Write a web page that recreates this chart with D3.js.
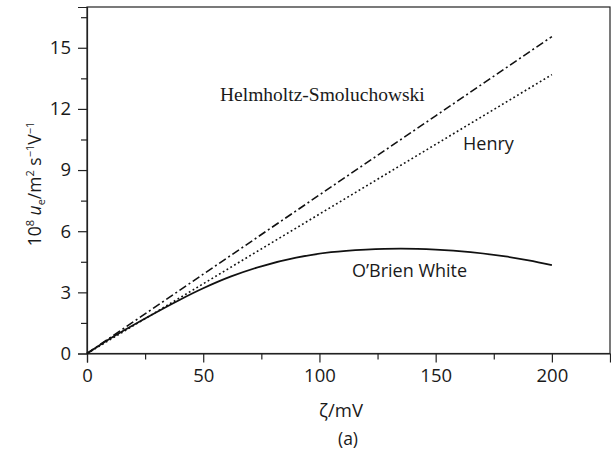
<!DOCTYPE html>
<html>
<head>
<meta charset="utf-8">
<script src="https://cdn.jsdelivr.net/npm/d3@7"></script>
<style>
  html, body { margin: 0; padding: 0; background: #fff; }
  svg { display: block; }
  text { fill: #1a1a1a; }
</style>
</head>
<body>
<svg id="chart" width="611" height="453"></svg>
<script>
// Electrophoretic mobility vs zeta potential for three models
const zetaHS = [0, 50, 100, 150, 200];
const mobilityHS = [0, 3.89, 7.78, 11.66, 15.55];

const zetaHenry = [0, 50, 100, 150, 200];
const mobilityHenry = [0, 3.42, 6.84, 10.26, 13.68];

const zetaOW = [0, 10, 25, 40, 50, 62, 75, 90, 105, 120, 135, 150, 165, 180, 190, 200];
const mobilityOW = [0, 0.74, 1.72, 2.64, 3.2, 3.78, 4.28, 4.7, 4.97, 5.1, 5.15, 5.1, 4.97, 4.76, 4.57, 4.33];

const xTicks = [0, 50, 100, 150, 200];
const xMinorTicks = [25, 75, 125, 175];
const yTicks = [0, 3, 6, 9, 12, 15];
const yMinorTicks = [1.5, 4.5, 7.5, 10.5, 13.5, 16.5];

const svg = d3.select("#chart");
const plotLeft = 87, plotRight = 610, plotTop = 7, plotBottom = 353.5;

const x = d3.scaleLinear().domain([0, 225]).range([plotLeft, plotRight]);
const y = d3.scaleLinear().domain([0, 17]).range([plotBottom, plotTop]);

const tickFont = "'Open Sans', 'Noto Sans', sans-serif";

// frame
svg.append("rect")
  .attr("x", plotLeft).attr("y", plotTop)
  .attr("width", plotRight - plotLeft).attr("height", plotBottom - plotTop)
  .attr("fill", "none").attr("stroke", "#222").attr("stroke-width", 1.2);

// x axis
svg.append("g").attr("transform", `translate(0,${plotBottom})`)
  .call(d3.axisBottom(x).tickValues(xTicks).tickSize(9).tickPadding(6).tickFormat(d3.format("d")));
svg.append("g").attr("transform", `translate(0,${plotBottom})`)
  .call(d3.axisBottom(x).tickValues(xMinorTicks).tickSize(6).tickFormat(""))
  .call(g => g.select(".domain").remove());

// y axis
svg.append("g").attr("transform", `translate(${plotLeft},0)`)
  .call(d3.axisLeft(y).tickValues(yTicks).tickSize(9).tickPadding(7).tickFormat(d3.format("d")));
svg.append("g").attr("transform", `translate(${plotLeft},0)`)
  .call(d3.axisLeft(y).tickValues(yMinorTicks).tickSize(6).tickFormat(""))
  .call(g => g.select(".domain").remove());

svg.selectAll(".tick line").attr("stroke", "#222").attr("stroke-width", 1.2);
svg.selectAll(".domain").attr("stroke", "#222").attr("stroke-width", 1.2);
svg.selectAll(".tick text")
  .attr("font-family", tickFont).attr("font-size", 18.5).attr("fill", "#1a1a1a");

// curves
const line = d3.line().x(d => x(d[0])).y(d => y(d[1]));

svg.append("path")
  .datum(d3.zip(zetaHS, mobilityHS))
  .attr("d", line).attr("fill", "none")
  .attr("stroke", "#111").attr("stroke-width", 1.6)
  .attr("stroke-dasharray", "8,3,2,3");

svg.append("path")
  .datum(d3.zip(zetaHenry, mobilityHenry))
  .attr("d", line).attr("fill", "none")
  .attr("stroke", "#111").attr("stroke-width", 1.6)
  .attr("stroke-dasharray", "1.8,2.6");

svg.append("path")
  .datum(d3.zip(zetaOW, mobilityOW))
  .attr("d", line.curve(d3.curveCatmullRom.alpha(0.5))).attr("fill", "none")
  .attr("stroke", "#111").attr("stroke-width", 1.8);

// curve labels
svg.append("text").attr("x", 220).attr("y", 101)
  .attr("font-family", "'Liberation Serif', 'Times New Roman', serif")
  .attr("font-size", 19.5).text("Helmholtz-Smoluchowski");

svg.append("text").attr("x", 463).attr("y", 150)
  .attr("font-family", tickFont).attr("font-size", 18).text("Henry");

svg.append("text").attr("x", 352).attr("y", 277)
  .attr("font-family", tickFont).attr("font-size", 18).text("O’Brien White");

// axis titles
svg.append("text").attr("x", 341).attr("y", 417).attr("text-anchor", "middle")
  .attr("font-family", tickFont).attr("font-size", 18.5).text("ζ/mV");

svg.append("text").attr("x", 348).attr("y", 445).attr("text-anchor", "middle")
  .attr("font-family", tickFont).attr("font-size", 17.5).text("(a)");

const yl = svg.append("text")
  .attr("transform", "translate(41,184) rotate(-90)")
  .attr("text-anchor", "middle")
  .attr("font-family", tickFont).attr("font-size", 17.5);
yl.append("tspan").text("10");
yl.append("tspan").attr("font-size", 11).attr("dy", -7).text("8");
yl.append("tspan").attr("dy", 7).text(" ");
yl.append("tspan").attr("font-style", "italic").text("u");
yl.append("tspan").attr("font-size", 11).attr("dy", 4).text("e");
yl.append("tspan").attr("dy", -4).text("/m");
yl.append("tspan").attr("font-size", 11).attr("dy", -7).text("2");
yl.append("tspan").attr("dy", 7).text(" s");
yl.append("tspan").attr("font-size", 11).attr("dy", -7).text("−1");
yl.append("tspan").attr("dy", 7).text("V");
yl.append("tspan").attr("font-size", 11).attr("dy", -7).text("−1");
</script>
</body>
</html>
